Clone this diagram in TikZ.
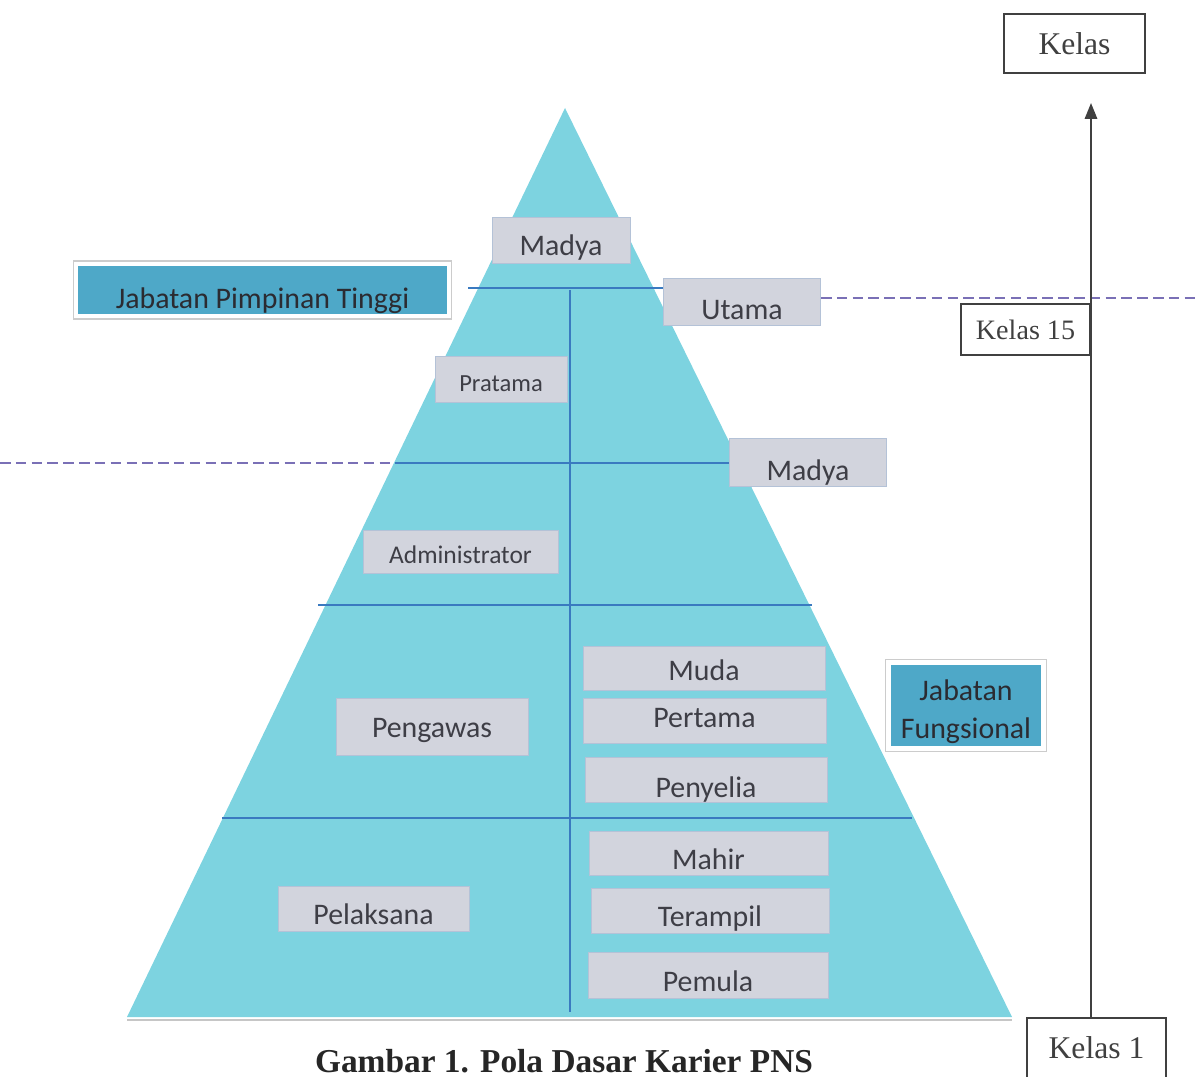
\documentclass[tikz,border=0pt]{standalone}
\usepackage{fontspec}
\setmainfont{Carlito}
\newfontfamily\kelasfont{Liberation Serif}
\usetikzlibrary{arrows.meta, positioning}
\definecolor{PyrCyan}{RGB}{125, 211, 224}
\definecolor{BoxGray}{RGB}{210, 212, 221}
\definecolor{JabBlue}{RGB}{78, 168, 200}
\definecolor{LineBlue}{RGB}{58, 122, 192}
\definecolor{DashPurple}{RGB}{122, 112, 182}
\definecolor{TxtGray}{RGB}{62, 62, 70}

\begin{document}
\begin{tikzpicture}[x=0.02cm, y=-0.02cm, font=\fontsize{17}{20}\selectfont,
  gbox/.style={fill=BoxGray, draw=BoxGray!80!LineBlue, line width=0.3pt, text=TxtGray, inner xsep=2pt, inner ysep=1pt, text height=#1, text depth=0pt},
  gbox/.default=18pt,
  jbox/.style={fill=JabBlue, draw=white, line width=2.5pt, text=TxtGray!70!black, inner ysep=1pt, preaction={draw=gray!40, line width=4pt}},
  kbox/.style={draw=black!75, line width=1.1pt, text=black!75, font=\kelasfont\fontsize{18}{20}\selectfont},
  sep/.style={LineBlue, line width=1pt},
  batas/.style={DashPurple, line width=0.9pt, dash pattern=on 6pt off 3pt}]
\useasboundingbox (0,0) rectangle (1199,1077);

% piramida
\coordinate (apex) at (565,108);
\coordinate (bl) at (127,1017);
\coordinate (br) at (1012,1017);
\draw[gray!45, line width=1.2pt] ([yshift=-1.5pt]bl) -- ([yshift=-1.5pt]br);
\fill[PyrCyan] (apex) -- (br) -- (bl) -- cycle;

% garis pembagi
\draw[sep] (468,288) -- (665,288);
\draw[sep] (395,463) -- (730,463);
\draw[sep] (318,605) -- (812,605);
\draw[sep] (222,818) -- (912,818);
\draw[sep] (570,290) -- (570,1012);
\draw[batas] (0,463) -- (395,463);
\draw[batas] (821,298) -- (1199,298);

% jabatan
\node[gbox] (madyaT) at (561,240) [minimum width=2.76cm, minimum height=0.92cm] {Madya};
\node[gbox=20pt] (utama) at (742,301.5) [minimum width=3.14cm, minimum height=0.94cm] {Utama};
\node[gbox=14pt, font=\fontsize{14}{16}\selectfont] (pratama) at (501,379) [minimum width=2.64cm, minimum height=0.92cm] {Pratama};
\node[gbox=20.5pt] (madyaR) at (808,462) [minimum width=3.14cm, minimum height=0.96cm] {Madya};
\node[gbox=13.5pt, font=\fontsize{14.5}{16}\selectfont] (admin) at (460.5,551.5) [minimum width=3.9cm, minimum height=0.86cm] {Administrator};
\node[gbox=12.5pt] (pengawas) at (432,726.5) [minimum width=3.84cm, minimum height=1.14cm] {Pengawas};
\node[gbox] (pelaksana) at (373.5,908.5) [minimum width=3.82cm, minimum height=0.9cm] {Pelaksana};

\node[gbox=14pt] (muda) at (704,668) [minimum width=4.84cm, minimum height=0.88cm] {Muda};
\node[gbox=8pt] (pertama) at (704.5,720.5) [minimum width=4.86cm, minimum height=0.9cm] {Pertama};
\node[gbox=21pt] (penyelia) at (706,779.5) [minimum width=4.84cm, minimum height=0.9cm] {Penyelia};
\node[gbox=19pt] (mahir) at (708.5,853) [minimum width=4.78cm, minimum height=0.88cm] {Mahir};
\node[gbox] (terampil) at (710,910.5) [minimum width=4.76cm, minimum height=0.9cm] {Terampil};
\node[gbox=18.5pt] (pemula) at (708,975) [minimum width=4.8cm, minimum height=0.92cm] {Pemula};

\node[jbox, text height=20.5pt, text depth=0pt, minimum width=7.46cm, minimum height=1.04cm] (jpt) at (262.5,290) {Jabatan Pimpinan Tinggi};
\node[jbox, align=center, font=\fontsize{17}{21.3}\selectfont, text height=37pt, text depth=0pt, minimum width=3.1cm, minimum height=1.72cm] (jf) at (966,705.5) {Jabatan\\Fungsional};

% kelas
\node[kbox, minimum width=2.82cm, minimum height=1.18cm] (kelas) at (1074.5,43.5) {Kelas};
\node[kbox, font=\kelasfont\fontsize{16}{18}\selectfont, minimum width=2.58cm, minimum height=1.02cm] (kelas15) at (1025.5,329.5) {Kelas 15};
\node[kbox, text height=14pt, text depth=14pt, minimum width=2.78cm, minimum height=1.6cm] (kelas1) at (1096.5,1058) {Kelas 1};
\coordinate (puncak) at (1091,103);
\draw[-{Triangle[length=9pt, width=7pt]}, line width=1.1pt, black!75] (kelas1.north -| puncak) -- (puncak);

\node[font=\kelasfont\bfseries\fontsize{19}{21}\selectfont, text=black!85, anchor=base, inner sep=0.5pt] (judul) at (564,1072) {Gambar 1. Pola Dasar Karier PNS};
\end{tikzpicture}
\end{document}
